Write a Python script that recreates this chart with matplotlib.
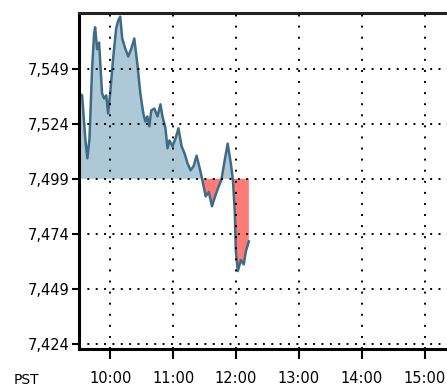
import matplotlib
matplotlib.use("Agg")
import matplotlib.pyplot as plt
import numpy as np

# minutes after 9:30 PST
minutes = [0, 3, 6, 8, 10, 12.5, 14.4, 15.4, 17.3, 19.2, 22, 24, 26, 27.8, 29.8,
           32.6, 35.5, 37.4, 39.4, 41.3, 44.2, 47, 50, 52.8, 55.7, 58.6, 61.4,
           63.4, 65.3, 67.2, 69, 72, 75, 77.8, 79.7, 82.6, 84.5, 86.4, 89.3,
           92.2, 95, 98, 100.8, 103.7, 106.6, 109.4, 112.3, 115.2, 118,
           121, 124, 127, 130, 133, 136, 139, 142, 145, 147, 148.8, 149.8,
           151.7, 154.6, 157.4, 159.4, 162.2]
prices = [7537.9, 7537.0, 7517.4, 7508.3, 7517.0, 7549.0, 7565.0, 7568.0, 7558.0,
          7561.0, 7538.0, 7535.6, 7537.0, 7528.8, 7538.0, 7553.8, 7567.4, 7571.0,
          7572.8, 7562.9, 7558.3, 7554.7, 7558.3, 7562.9, 7551.5, 7537.9, 7528.8,
          7525.1, 7527.4, 7522.9, 7530.1, 7531.0, 7527.4, 7532.9, 7527.4, 7522.0,
          7512.9, 7516.5, 7513.8, 7517.4, 7522.0, 7513.8, 7510.6, 7506.0, 7502.9,
          7504.7, 7509.5, 7504.0, 7498.0,
          7491.0, 7493.0, 7486.5, 7491.0, 7495.0, 7498.5, 7507.0, 7515.0, 7506.0,
          7498.5, 7484.0, 7466.0, 7457.0, 7462.0, 7460.0, 7466.0, 7470.5]
prev_close = 7499
y_ticks = [7424, 7449, 7474, 7499, 7524, 7549]
y_labels = ["7,424", "7,449", "7,474", "7,499", "7,524", "7,549"]
x_ticks = [10, 11, 12, 13, 14, 15]
x_labels = ["10:00", "11:00", "12:00", "13:00", "14:00", "15:00"]

t = 9.5 + np.array(minutes) / 60.0
p = np.array(prices)

fig = plt.figure(figsize=(4.47, 3.88), dpi=100)
ax = fig.add_axes([0.1767, 0.1005, 0.8233 + 0.02, 0.866])

ax.fill_between(t, p, prev_close, where=p >= prev_close, interpolate=True,
                color="#adc8d6", linewidth=0)
ax.fill_between(t, p, prev_close, where=p <= prev_close, interpolate=True,
                color="#ff7b76", linewidth=0)
ax.plot(t, p, color="#3f6b86", linewidth=1.8)

ax.set_xlim(9.5, 15.5)
ax.set_ylim(7421.5, 7574.5)
ax.set_xticks(x_ticks)
ax.set_xticklabels(x_labels)
ax.set_yticks(y_ticks)
ax.set_yticklabels(y_labels)

ax.xaxis.grid(True, color="black", linestyle=(0, (1, 4.7)), linewidth=1.4)
ax.yaxis.grid(True, color="black", linestyle=(0, (1, 3.3)), linewidth=1.4)
ax.set_axisbelow(False)

for s in ["left", "bottom"]:
    ax.spines[s].set_linewidth(2.2)
    ax.spines[s].set_color("black")
ax.spines["top"].set_linewidth(2.2)
ax.spines["top"].set_color("#222222")
ax.spines["right"].set_visible(False)

ax.tick_params(axis="y", length=5, width=1.5, pad=1.5, labelsize=10.5, colors="black")
ax.tick_params(axis="x", length=7, width=1.5, pad=9, labelsize=10.5, colors="black")

fig.text(14 / 447, 1 - 380 / 388, "PST", fontsize=10, va="center", ha="left")

fig.savefig("out.png", dpi=100)
